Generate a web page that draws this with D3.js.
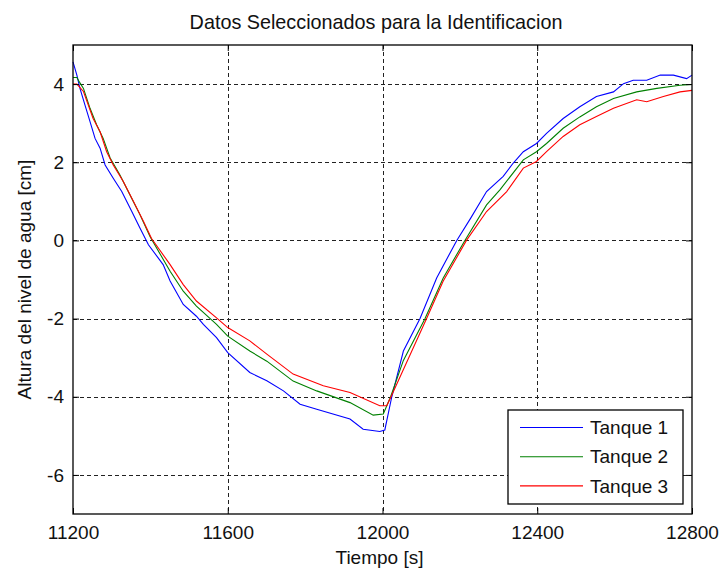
<!DOCTYPE html>
<html>
<head>
<meta charset="utf-8">
<script src="https://cdnjs.cloudflare.com/ajax/libs/d3/7.8.5/d3.min.js"></script>
<style>
  body { margin: 0; background: #fff; }
  svg { font-family: "Liberation Sans", Arial, sans-serif; }
</style>
</head>
<body>
<div id="chart"></div>
<script>
(function () {
    'use strict';
    var width = 723, height = 575;
    var margin = {left: 73, right: 31, top: 45, bottom: 61};

    // data
    var xTicks = [11200, 11600, 12000, 12400, 12800];
    var yTicks = [4, 2, 0, -2, -4, -6];
    var seriesNames = ['Tanque 1', 'Tanque 2', 'Tanque 3'];
    var seriesColors = ['#0000ff', '#008000', '#ff0000'];

    var tanque1T = [11200, 11210, 11218, 11231, 11244, 11257, 11270, 11283, 11304, 11326, 11352, 11373, 11395, 11433, 11451, 11485, 11519, 11537, 11571, 11600, 11657, 11701, 11744, 11787, 11830, 11916, 11950, 11993, 12006, 12024, 12054, 12097, 12140, 12192, 12228, 12269, 12312, 12338, 12364, 12398, 12424, 12467, 12510, 12553, 12597, 12623, 12648, 12683, 12718, 12752, 12786, 12800];
    var tanque1V = [4.57, 4.23, 3.89, 3.46, 3.04, 2.61, 2.36, 1.93, 1.59, 1.25, 0.74, 0.32, -0.11, -0.62, -1.04, -1.64, -1.94, -2.15, -2.49, -2.87, -3.38, -3.59, -3.85, -4.19, -4.32, -4.57, -4.83, -4.89, -4.85, -4.0, -2.83, -2.0, -0.96, 0.0, 0.57, 1.25, 1.64, 1.98, 2.27, 2.48, 2.74, 3.12, 3.42, 3.68, 3.80, 4.01, 4.10, 4.10, 4.23, 4.23, 4.14, 4.23];

    var tanque2T = [11200, 11210, 11218, 11227, 11244, 11261, 11278, 11296, 11321, 11347, 11373, 11399, 11451, 11485, 11519, 11571, 11600, 11657, 11701, 11769, 11830, 11916, 11976, 12002, 12021, 12054, 12110, 12157, 12213, 12269, 12304, 12364, 12398, 12424, 12467, 12510, 12553, 12597, 12657, 12709, 12769, 12800];
    var tanque2V = [4.17, 4.17, 4.03, 3.89, 3.38, 2.96, 2.61, 2.11, 1.68, 1.17, 0.66, 0.10, -0.79, -1.30, -1.68, -2.15, -2.45, -2.83, -3.09, -3.60, -3.85, -4.15, -4.47, -4.44, -4.0, -3.07, -2.0, -0.96, 0.0, 0.91, 1.30, 2.06, 2.27, 2.48, 2.87, 3.16, 3.42, 3.63, 3.80, 3.89, 3.97, 3.99];

    var tanque3T = [11200, 11210, 11227, 11252, 11270, 11287, 11304, 11330, 11356, 11382, 11403, 11451, 11485, 11519, 11571, 11600, 11657, 11701, 11769, 11847, 11916, 11993, 12011, 12022, 12114, 12157, 12217, 12269, 12321, 12364, 12398, 12424, 12467, 12510, 12553, 12597, 12657, 12683, 12726, 12769, 12800];
    var tanque3V = [4.0, 4.0, 3.81, 3.12, 2.78, 2.27, 1.93, 1.51, 1.00, 0.49, 0.05, -0.62, -1.13, -1.55, -1.98, -2.23, -2.57, -2.91, -3.42, -3.72, -3.89, -4.23, -4.23, -4.0, -2.0, -1.04, 0.0, 0.74, 1.25, 1.85, 2.02, 2.27, 2.66, 2.96, 3.17, 3.38, 3.60, 3.55, 3.68, 3.80, 3.84];

    var series = [
        {name: seriesNames[0], color: seriesColors[0], t: tanque1T, v: tanque1V},
        {name: seriesNames[1], color: seriesColors[1], t: tanque2T, v: tanque2V},
        {name: seriesNames[2], color: seriesColors[2], t: tanque3T, v: tanque3V}
    ];

    var svg = d3.select('#chart').append('svg')
        .attr('width', width)
        .attr('height', height);

    var x = d3.scaleLinear().domain([11200, 12800]).range([margin.left, width - margin.right]);
    var y = d3.scaleLinear().domain([-7, 5]).range([height - margin.bottom, margin.top]);

    var x0 = x.range()[0], x1 = x.range()[1], y0 = y.range()[0], y1 = y.range()[1];

    // plain integer labels with an ascii hyphen, like matlab
    var fmt = function (d) { return String(d); };

    // dashed grid
    var grid = svg.append('g').attr('class', 'grid')
        .attr('stroke', '#222').attr('stroke-width', 1).attr('stroke-dasharray', '4,3');
    grid.selectAll('.gx').data(xTicks.slice(1, -1)).enter().append('line')
        .attr('x1', function (d) { return Math.round(x(d)) + 0.5; })
        .attr('x2', function (d) { return Math.round(x(d)) + 0.5; })
        .attr('y1', y1).attr('y2', y0);
    grid.selectAll('.gy').data(yTicks).enter().append('line')
        .attr('y1', function (d) { return Math.round(y(d)) + 0.5; })
        .attr('y2', function (d) { return Math.round(y(d)) + 0.5; })
        .attr('x1', x0).attr('x2', x1);

    // data lines
    var line = d3.line()
        .x(function (d) { return x(d[0]); })
        .y(function (d) { return y(d[1]); });
    svg.append('g').selectAll('path').data(series).enter().append('path')
        .attr('fill', 'none')
        .attr('stroke', function (d) { return d.color; })
        .attr('stroke-width', 1.1)
        .attr('d', function (d) { return line(d3.zip(d.t, d.v)); });

    // axes (ticks pointing inward, matlab style)
    var fs = '19px';
    var xAxis = svg.append('g').attr('transform', 'translate(0,' + y0 + ')')
        .call(d3.axisBottom(x).tickValues(xTicks).tickFormat(fmt).tickSizeInner(-6).tickSizeOuter(0).tickPadding(12));
    var yAxis = svg.append('g').attr('transform', 'translate(' + x0 + ',0)')
        .call(d3.axisLeft(y).tickValues(yTicks).tickFormat(fmt).tickSizeInner(-6).tickSizeOuter(0).tickPadding(9));
    var xTop = svg.append('g').attr('transform', 'translate(0,' + y1 + ')')
        .call(d3.axisTop(x).tickValues(xTicks).tickSizeInner(-6).tickSizeOuter(0).tickFormat(''));
    var yRight = svg.append('g').attr('transform', 'translate(' + x1 + ',0)')
        .call(d3.axisRight(y).tickValues(yTicks).tickSizeInner(-6).tickSizeOuter(0).tickFormat(''));

    [xAxis, yAxis, xTop, yRight].forEach(function (g) {
        g.select('.domain').remove();
        g.selectAll('.tick line').attr('stroke', '#000');
    });
    xAxis.selectAll('text').attr('font-size', fs).attr('fill', '#111').attr('font-family', null);
    yAxis.selectAll('text').attr('font-size', fs).attr('fill', '#111').attr('font-family', null);

    // box
    svg.append('rect')
        .attr('x', x0).attr('y', y1)
        .attr('width', x1 - x0).attr('height', y0 - y1)
        .attr('fill', 'none').attr('stroke', '#000').attr('stroke-width', 1.3);

    // title and labels
    svg.append('text')
        .attr('x', 376).attr('y', 29)
        .attr('text-anchor', 'middle').attr('font-size', '19.8px').attr('fill', '#111')
        .text('Datos Seleccionados para la Identificacion');
    svg.append('text')
        .attr('x', (x0 + x1) / 2 - 3).attr('y', 564)
        .attr('text-anchor', 'middle').attr('font-size', fs).attr('fill', '#111')
        .text('Tiempo [s]');
    svg.append('text')
        .attr('transform', 'translate(31,' + ((y0 + y1) / 2) + ') rotate(-90)')
        .attr('text-anchor', 'middle').attr('font-size', fs).attr('fill', '#111')
        .text('Altura del nivel de agua [cm]');

    // legend
    var legend = svg.append('g').attr('transform', 'translate(508,410)');
    legend.append('rect')
        .attr('width', 175).attr('height', 94)
        .attr('fill', '#fff').attr('stroke', '#000').attr('stroke-width', 1.3);
    var rows = legend.selectAll('.row').data(series).enter().append('g')
        .attr('transform', function (d, i) { return 'translate(0,' + (17.5 + i * 29.2) + ')'; });
    rows.append('line')
        .attr('x1', 12).attr('x2', 75)
        .attr('stroke', function (d) { return d.color; }).attr('stroke-width', 1.1);
    rows.append('text')
        .attr('x', 82).attr('dy', '0.35em')
        .attr('font-size', fs).attr('fill', '#111')
        .text(function (d) { return d.name; });
}());
</script>
</body>
</html>
